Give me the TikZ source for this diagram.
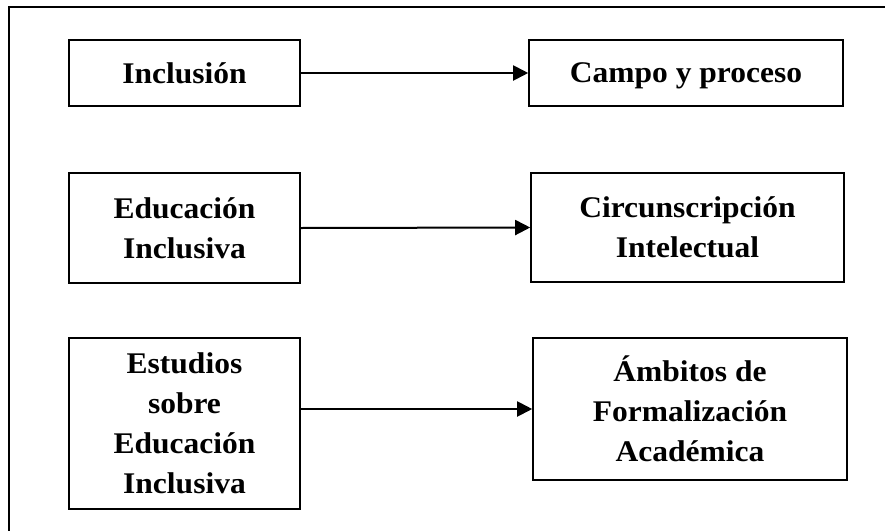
\documentclass[tikz,border=0pt]{standalone}
\usepackage{fontspec}
\setmainfont{Liberation Serif}[FakeStretch=1.05]
\usetikzlibrary{arrows.meta}
\tikzset{
  box/.style={draw=black, line width=1.6pt, rectangle, align=center, inner sep=0pt,
    font=\fontsize{30}{40}\selectfont\bfseries},
  arr/.style={draw=black, line width=2pt, -{Triangle[length=15pt,width=15pt]}},
  frame/.style={draw=black, line width=2.4pt}
}
\begin{document}
\begin{tikzpicture}[x=1pt,y=-1pt]
\useasboundingbox (0,0) rectangle (885,530);
\draw[frame] (9,7) rectangle (900,545);
\node[box, minimum width=231pt, minimum height=66pt] (b1) at (184.5,73) {Inclusión};
\node[box, minimum width=314pt, minimum height=66pt, text depth=0pt] (b2) at (686,73) {Campo y proceso};
\node[box, minimum width=231pt, minimum height=110pt] (b3) at (184.5,228) {Educación\\Inclusiva};
\node[box, minimum width=313pt, minimum height=109pt] (b4) at (687.5,227.5) {Circunscripción\\Intelectual};
\node[box, minimum width=231pt, minimum height=171pt] (b5) at (184.5,423.5) {Estudios\\sobre\\Educación\\Inclusiva};
\node[box, minimum width=314pt, minimum height=142pt] (b6) at (690,409) {Ámbitos de\\Formalización\\Académica};
\draw[arr] (b1.east) -- (b2.west);
\draw[arr] (b3.east) -- (b4.west);
\draw[arr] (b5.east |- b6.west) -- (b6.west);
\end{tikzpicture}
\end{document}
